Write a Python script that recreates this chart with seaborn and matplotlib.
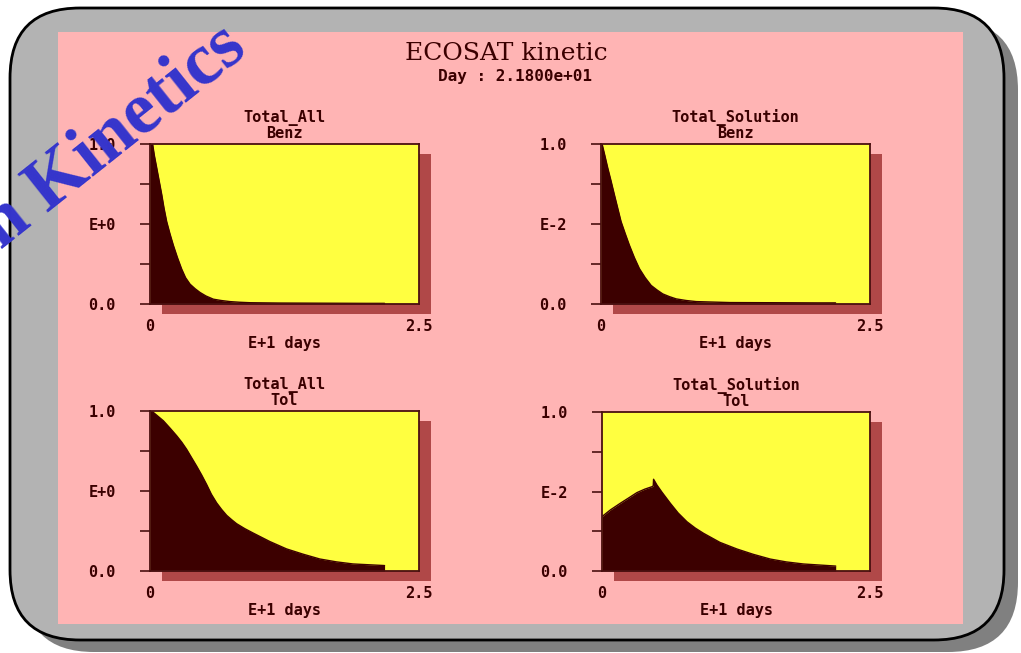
import matplotlib
matplotlib.use('Agg')
import matplotlib.pyplot as plt
from matplotlib.patches import FancyBboxPatch, Rectangle
import pandas as pd
import seaborn as sns

# colours
GREY = '#b3b3b3'
GREY_SHADOW = '#808080'
PINK = '#ffb4b4'
YELLOW = '#ffff40'
DARK = '#3c0000'
AX_SHADOW = '#b04848'
TEXT = '#3a0000'
BLUE = '#3535cc'

W, H = 1021, 653

main_title = 'ECOSAT kinetic'
sub_title = 'Day : 2.1800e+01'
x_label = 'E+1 days'

# curves (x in E+1 days, value relative)
benz_all_x = [0, 0.024, 0.04, 0.062, 0.085, 0.109, 0.13, 0.155, 0.185, 0.217, 0.255, 0.294, 0.33,
              0.372, 0.42, 0.465, 0.52, 0.589, 0.66, 0.743, 0.83, 0.93, 1.2, 1.6, 2.0, 2.18]
benz_all_v = [1.0, 1.0, 0.93, 0.852, 0.77, 0.684, 0.60, 0.515, 0.44, 0.367, 0.29, 0.219, 0.165,
              0.124, 0.095, 0.072, 0.05, 0.030, 0.022, 0.015, 0.011, 0.008, 0.006, 0.005, 0.004, 0.004]

benz_sol_x = [0, 0.01, 0.035, 0.062, 0.093, 0.124, 0.155, 0.186, 0.225, 0.263, 0.31, 0.357, 0.41,
              0.466, 0.52, 0.574, 0.636, 0.698, 0.79, 0.885, 1.2, 1.6, 2.0, 2.18]
benz_sol_v = [1.0, 1.0, 0.93, 0.852, 0.77, 0.684, 0.60, 0.516, 0.44, 0.369, 0.29, 0.221, 0.165,
              0.116, 0.088, 0.063, 0.046, 0.032, 0.022, 0.015, 0.009, 0.008, 0.007, 0.007]

tol_all_x = [0, 0.015, 0.06, 0.124, 0.19, 0.248, 0.295, 0.34, 0.385, 0.433, 0.48, 0.526, 0.57, 0.619,
             0.665, 0.712, 0.76, 0.804, 0.88, 0.959, 1.114, 1.269, 1.423, 1.578, 1.733, 1.887, 2.18]
tol_all_v = [1.0, 1.0, 0.975, 0.939, 0.89, 0.845, 0.805, 0.761, 0.71, 0.656, 0.60, 0.541, 0.48, 0.426,
             0.385, 0.348, 0.32, 0.296, 0.265, 0.237, 0.184, 0.138, 0.105, 0.075, 0.057, 0.044, 0.034]

tol_sol_x = [0, 0.08, 0.171, 0.25, 0.326, 0.40, 0.466, 0.478, 0.481, 0.512, 0.56, 0.637, 0.71, 0.792,
             0.87, 0.947, 1.10, 1.26, 1.41, 1.57, 1.72, 1.88, 2.18]
tol_sol_v = [0.342, 0.385, 0.426, 0.46, 0.493, 0.515, 0.530, 0.535, 0.577, 0.541, 0.495, 0.426, 0.365,
             0.310, 0.27, 0.237, 0.180, 0.138, 0.105, 0.075, 0.057, 0.044, 0.031]

panels = [
    # title, y mid label, x, v, (left, top, width, height) in pixels
    ('Total_All\nBenz', 'E+0', benz_all_x, benz_all_v, (150, 144, 269, 160)),
    ('Total_Solution\nBenz', 'E-2', benz_sol_x, benz_sol_v, (601, 144, 269, 160)),
    ('Total_All\nTol', 'E+0', tol_all_x, tol_all_v, (150, 411, 269, 160)),
    ('Total_Solution\nTol', 'E-2', tol_sol_x, tol_sol_v, (602, 412, 268, 159)),
]

sns.set_theme(style='white')
plt.rcParams['font.family'] = ['DejaVu Sans Mono', 'DejaVu Sans']

fig = plt.figure(figsize=(W / 100, H / 100), dpi=100)
fig.patch.set_facecolor('white')

# background: rounded grey card, pink panel, axes shadows
bg = fig.add_axes([0, 0, 1, 1])
bg.set_xlim(0, W)
bg.set_ylim(H, 0)
bg.axis('off')
bg.add_patch(FancyBboxPatch((24, 20), 994, 632, boxstyle='round,pad=0,rounding_size=70',
                            fc=GREY_SHADOW, ec='none'))
bg.add_patch(FancyBboxPatch((10, 8), 994, 632, boxstyle='round,pad=0,rounding_size=70',
                            fc=GREY, ec='black', lw=2))
bg.add_patch(Rectangle((58, 32), 905, 592, fc=PINK, ec='none'))
for _, _, _, _, (l, t, w, h) in panels:
    bg.add_patch(Rectangle((l + 12, t + 10), w, h, fc=AX_SHADOW, ec='none'))

bg.text(506, 53, main_title, family='DejaVu Serif', fontsize=18, color=TEXT,
        ha='center', va='center')
bg.text(515, 77, sub_title, fontsize=11.5, fontweight='bold', color=TEXT,
        ha='center', va='center')

for title, mid, xs, vs, (l, t, w, h) in panels:
    ax = fig.add_axes([l / W, 1 - (t + h) / H, w / W, h / H])
    ax.set_facecolor(YELLOW)
    df = pd.DataFrame({'days': xs, 'value': vs})
    ax.fill_between(df['days'], df['value'], 0, color=DARK, lw=0)
    sns.lineplot(data=df, x='days', y='value', ax=ax, color=DARK, lw=1,
                 estimator=None, sort=False)
    ax.set_xlim(0, 2.5)
    ax.set_ylim(0, 1)
    ax.set_yticks([0, 0.25, 0.5, 0.75, 1.0], ['0.0', '', mid, '', '1.0'])
    ax.set_xticks([0, 2.5], ['0', '2.5'])
    ax.tick_params(axis='y', direction='out', length=7.5, width=1.2, color='#4a1010',
                   pad=17, labelsize=11, labelcolor=TEXT, left=True)
    ax.tick_params(axis='x', length=0, pad=11, labelsize=11, labelcolor=TEXT)
    for lab in ax.get_xticklabels() + ax.get_yticklabels():
        lab.set_fontweight('bold')
    for s in ax.spines.values():
        s.set_color('#4a1010')
        s.set_linewidth(1.3)
    ax.set_xlabel(x_label, fontsize=11, fontweight='bold', color=TEXT, labelpad=1)
    ax.set_ylabel('')
    ax.set_title(title, fontsize=11, fontweight='bold', color=TEXT, pad=4, linespacing=1.0)

# rotated blue banner text, partly off the card
fig.text(1 / W, 1 - 250 / H, 'n Kinetics', family='Liberation Serif', fontweight='bold',
         fontsize=53, color=BLUE, rotation=38.5, rotation_mode='anchor',
         ha='left', va='baseline', zorder=10)

fig.savefig('out.png', dpi=100)
